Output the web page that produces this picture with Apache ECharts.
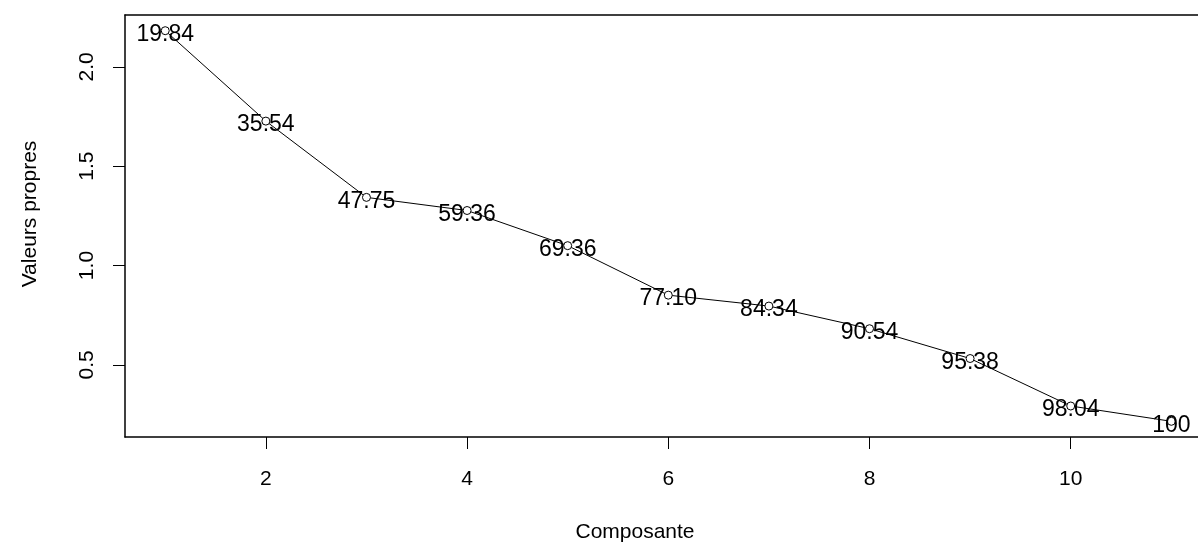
<!DOCTYPE html>
<html>
<head>
<meta charset="utf-8">
<script src="https://cdn.jsdelivr.net/npm/echarts@6/dist/echarts.min.js"></script>
<style>
html,body{margin:0;padding:0;background:#fff;}
#c{width:1198px;height:545px;}
</style>
</head>
<body>
<div id="c"></div>
<script>
// Data
var components = [1, 2, 3, 4, 5, 6, 7, 8, 9, 10, 11];
var eigenvalues = [2.182, 1.727, 1.343, 1.277, 1.100, 0.851, 0.796, 0.682, 0.532, 0.293, 0.216];
var cumulativeLabels = ["19.84", "35.54", "47.75", "59.36", "69.36", "77.10", "84.34", "90.54", "95.38", "98.04", "100"];
var xTicks = [2, 4, 6, 8, 10];
var yTicks = [0.5, 1.0, 1.5, 2.0];

var FONT = "'Liberation Sans', Arial, sans-serif";
var chart = echarts.init(document.getElementById('c'), null, {renderer: 'canvas'});
var pts = components.map(function (c, i) { return [c, eigenvalues[i]]; });
var XMIN = 0.6, XMAX = 11.265, YMIN = 0.137, YMAX = 2.261;

chart.setOption({
  animation: false,
  backgroundColor: '#ffffff',
  grid: {left: 125, top: 15, right: 0, bottom: 108, show: false},
  xAxis: [{
    type: 'value', min: XMIN, max: XMAX, position: 'bottom',
    axisLine: {show: true, onZero: false, lineStyle: {color: '#000', width: 1.5}},
    axisTick: {show: true, length: 12, customValues: xTicks, lineStyle: {color: '#000', width: 1}},
    axisLabel: {show: true, customValues: xTicks, margin: 32, color: '#000', fontSize: 21, fontFamily: FONT},
    splitLine: {show: false}
  }, {
    type: 'value', min: XMIN, max: XMAX, position: 'top',
    axisLine: {show: true, onZero: false, lineStyle: {color: '#000', width: 1.5}},
    axisTick: {show: false}, axisLabel: {show: false}, splitLine: {show: false}
  }],
  yAxis: {
    type: 'value', min: YMIN, max: YMAX,
    axisLine: {show: true, onZero: false, lineStyle: {color: '#000', width: 1.5}},
    axisTick: {show: true, length: 12, customValues: yTicks, lineStyle: {color: '#000', width: 1}},
    axisLabel: {show: true, customValues: yTicks, rotate: 90, margin: 27, color: '#000', fontSize: 21, fontFamily: FONT,
      formatter: function (v) { return v.toFixed(1); }},
    splitLine: {show: false}
  },
  graphic: [
    {type: 'text', x: 635, y: 532, style: {text: 'Composante', font: '21px ' + FONT, fill: '#000', textAlign: 'center', textVerticalAlign: 'middle'}},
    {type: 'text', x: 30, y: 214, rotation: Math.PI / 2, style: {text: 'Valeurs propres', font: '21px ' + FONT, fill: '#000', textAlign: 'center', textVerticalAlign: 'middle'}}
  ],
  series: [{
    type: 'line',
    data: pts,
    symbol: 'circle',
    symbolSize: 8,
    itemStyle: {color: '#fff', borderColor: '#000', borderWidth: 1},
    lineStyle: {color: '#000', width: 1},
    label: {
      show: true, position: 'inside', offset: [0, 4],
      color: '#000', fontSize: 23, fontFamily: FONT,
      formatter: function (p) { return cumulativeLabels[p.dataIndex]; }
    },
    emphasis: {disabled: true}
  }]
});
</script>
</body>
</html>
